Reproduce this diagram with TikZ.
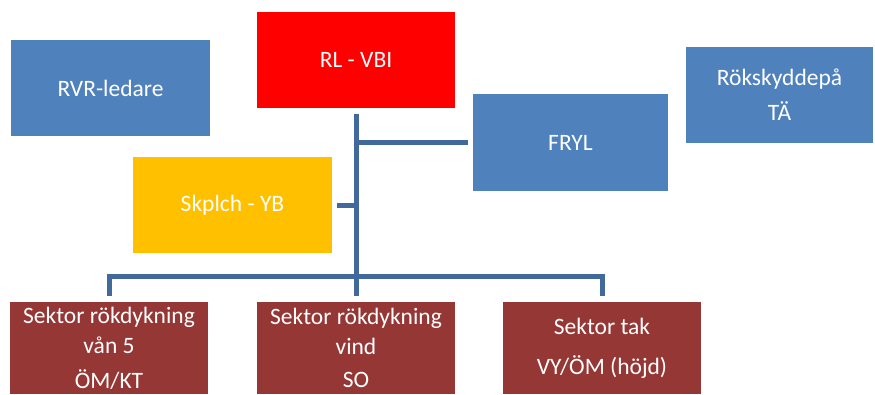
\documentclass[tikz,border=0pt]{standalone}
\usepackage{fontspec}
\setmainfont{Carlito}
\definecolor{boxblue}{HTML}{4F81BD}
\definecolor{boxred}{HTML}{FF0000}
\definecolor{boxyellow}{HTML}{FFC000}
\definecolor{boxmaroon}{HTML}{953735}
\definecolor{linkblue}{HTML}{41699B}
\tikzset{
  unit/.style={rectangle, draw=none, inner sep=0pt, text=white,
    minimum width=198pt, minimum height=96pt, align=center,
    font=\fontsize{23.5}{30}\selectfont},
  sektor/.style={unit, fill=boxmaroon, minimum height=92pt},
  link/.style={draw=linkblue, line width=5pt}
}
\begin{document}
\begin{tikzpicture}[x=1pt, y=-1pt]
  \useasboundingbox (0,0) rectangle (875,394);
  % top row
  \node[unit, fill=boxred] (rl) at (356,60) {RL - VBI};
  \node[unit, fill=boxblue, minimum width=199pt] (rvr) at (110.5,88) {RVR-ledare};
  \node[unit, fill=boxblue, minimum width=195pt, minimum height=97pt] (fryl) at (570.5,142.5) {FRYL};
  \node[unit, fill=boxblue, minimum width=187pt] (rok) at (779.5,95) {Rökskyddepå\\[5pt]TÄ};
  \node[unit, fill=boxyellow, minimum width=199pt] (skp) at (232.5,205) {Skplch - YB};
  % sectors
  \node[sektor] (s1) at (109,348) {Sektor rökdykning\\vån 5\\[5pt]ÖM/KT};
  \node[sektor] (s2) at (356,348) {Sektor rökdykning\\vind\\[3pt]SO};
  \node[sektor] (s3) at (602,348) {Sektor tak\\[10pt]VY/ÖM (höjd)};
  % connectors
  \coordinate (top) at ([yshift=-6pt]rl.south);
  \coordinate (bot) at ([yshift=6pt]s2.north);
  \draw[link] (top) -- (bot);
  \draw[link] (top |- fryl.west) -- ([xshift=-5pt]fryl.west);
  \draw[link] ([xshift=5pt]skp.east) -- (top |- skp.east);
  \coordinate (busl) at ([yshift=25pt]s1.north);
  \coordinate (busr) at ([yshift=25pt]s3.north);
  \draw[link] ([yshift=6pt]s1.north) -- (busl) -- (busr) -- ([yshift=6pt]s3.north);
\end{tikzpicture}
\end{document}
